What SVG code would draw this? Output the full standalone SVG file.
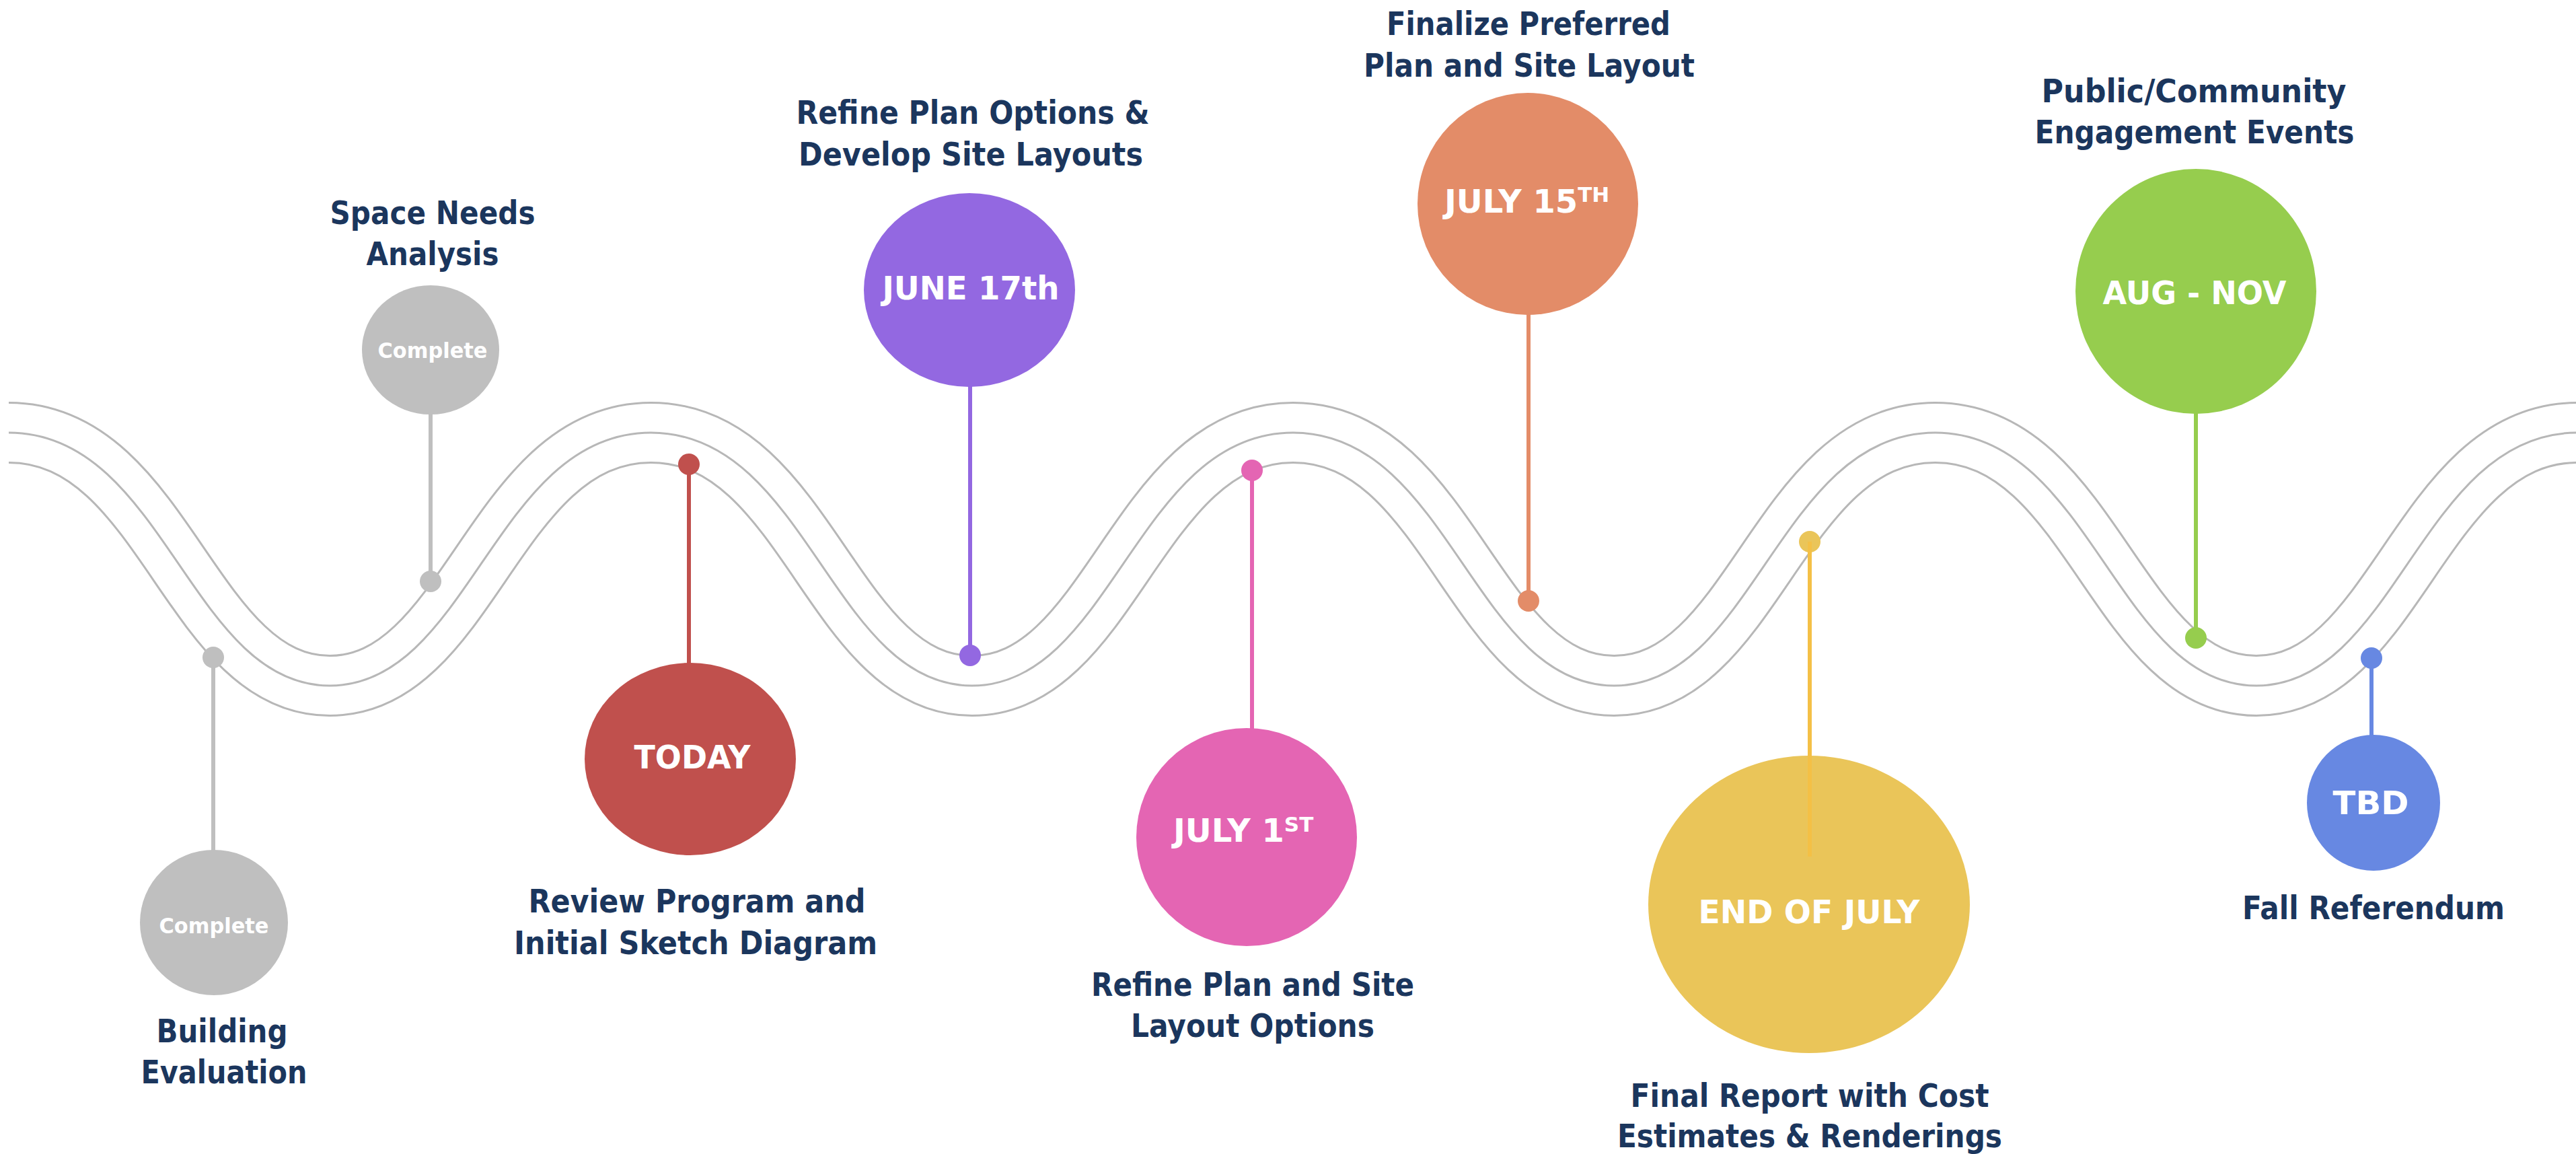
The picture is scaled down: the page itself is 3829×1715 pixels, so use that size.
<svg xmlns="http://www.w3.org/2000/svg" width="3829" height="1715" viewBox="0 0 3829 1715">
<defs>
<style>
.lbl{font-family:"DejaVu Sans","Liberation Sans",sans-serif;font-weight:bold;font-size:48px;fill:#1b365d;text-anchor:middle}
.in{font-family:"DejaVu Sans","Liberation Sans",sans-serif;font-weight:bold;font-size:48px;fill:#ffffff;text-anchor:middle}
.st{text-anchor:start}
.sup{font-size:31px}
.cmp{font-size:32px}
.stem{stroke-width:6;fill:none}
</style>
<path id="wave" fill="none" d="M13 643 C245 643 282.25 1019 490.25 1019 C698.25 1019 735.5 643 967.5 643 C1199.5 643 1236.75 1019 1444.75 1019 C1652.75 1019 1690 643 1922 643 C2154 643 2191.25 1019 2399.25 1019 C2607.25 1019 2644.5 643 2876.5 643 C3108.5 643 3145.75 1019 3353.75 1019 C3561.75 1019 3599 643 3831 643"/>
</defs>
<rect width="3829" height="1715" fill="#ffffff"/>
<g id="timeline">
<use href="#wave" stroke="#b7b7b7" stroke-width="92"/>
<use href="#wave" stroke="#ffffff" stroke-width="86"/>
<use href="#wave" stroke="#b7b7b7" stroke-width="3"/>
</g>
<g id="n-building">
<ellipse cx="318" cy="1371" rx="110" ry="108" fill="#bfbfbf"/>
<circle cx="317" cy="977" r="16" fill="#bfbfbf"/>
<text class="in cmp" x="318" y="1387" textLength="163" lengthAdjust="spacingAndGlyphs">Complete</text>
<text class="lbl" x="330" y="1549" textLength="195" lengthAdjust="spacingAndGlyphs">Building</text>
<text class="lbl" x="333" y="1610" textLength="247" lengthAdjust="spacingAndGlyphs">Evaluation</text>
</g>
<g id="n-space">
<ellipse cx="640" cy="520" rx="102" ry="96" fill="#bfbfbf"/>
<circle cx="640" cy="864" r="16" fill="#bfbfbf"/>
<text class="in cmp" x="643" y="532" textLength="163" lengthAdjust="spacingAndGlyphs">Complete</text>
<text class="lbl" x="643" y="333" textLength="305" lengthAdjust="spacingAndGlyphs">Space Needs</text>
<text class="lbl" x="643" y="394" textLength="197" lengthAdjust="spacingAndGlyphs">Analysis</text>
</g>
<g id="n-today">
<ellipse cx="1026" cy="1128" rx="157" ry="143" fill="#c0504d"/>
<circle cx="1024" cy="690" r="16" fill="#c0504d"/>
<text class="in" x="1029" y="1142" textLength="173" lengthAdjust="spacingAndGlyphs">TODAY</text>
<text class="lbl" x="1036" y="1356" textLength="501" lengthAdjust="spacingAndGlyphs">Review Program and</text>
<text class="lbl" x="1034" y="1418" textLength="540" lengthAdjust="spacingAndGlyphs">Initial Sketch Diagram</text>
</g>
<g id="n-june">
<ellipse cx="1441" cy="431" rx="157" ry="144" fill="#9368e1"/>
<circle cx="1442" cy="974" r="16" fill="#9368e1"/>
<text class="in" x="1443" y="445" textLength="263" lengthAdjust="spacingAndGlyphs">JUNE 17th</text>
<text class="lbl" x="1446" y="184" textLength="525" lengthAdjust="spacingAndGlyphs">Refine Plan Options &amp;</text>
<text class="lbl" x="1443" y="246" textLength="512" lengthAdjust="spacingAndGlyphs">Develop Site Layouts</text>
</g>
<g id="n-july1">
<ellipse cx="1853" cy="1244" rx="164" ry="162" fill="#e465b3"/>
<circle cx="1861" cy="699" r="16" fill="#e465b3"/>
<text class="in st" x="1744" y="1251">JULY 1<tspan class="sup" dy="-15">ST</tspan></text>
<text class="lbl" x="1862" y="1480" textLength="480" lengthAdjust="spacingAndGlyphs">Refine Plan and Site</text>
<text class="lbl" x="1862" y="1541" textLength="362" lengthAdjust="spacingAndGlyphs">Layout Options</text>
</g>
<g id="n-july15">
<ellipse cx="2271" cy="303" rx="164" ry="165" fill="#e38c68"/>
<circle cx="2272" cy="893" r="16" fill="#e38c68"/>
<text class="in st" x="2147" y="316">JULY 15<tspan class="sup" dy="-16">TH</tspan></text>
<text class="lbl" x="2272" y="52" textLength="422" lengthAdjust="spacingAndGlyphs">Finalize Preferred</text>
<text class="lbl" x="2273" y="114" textLength="492" lengthAdjust="spacingAndGlyphs">Plan and Site Layout</text>
</g>
<g id="n-endjuly">
<ellipse cx="2689" cy="1344" rx="239" ry="221" fill="#eac559"/>
<circle cx="2690" cy="805" r="16" fill="#eac559"/>
<text class="in" x="2689" y="1372" textLength="329" lengthAdjust="spacingAndGlyphs">END OF JULY</text>
<text class="lbl" x="2690" y="1645" textLength="533" lengthAdjust="spacingAndGlyphs">Final Report with Cost</text>
<text class="lbl" x="2690" y="1705" textLength="572" lengthAdjust="spacingAndGlyphs">Estimates &amp; Renderings</text>
</g>
<g id="n-augnov">
<ellipse cx="3264" cy="433" rx="179" ry="182" fill="#96cd4e"/>
<circle cx="3264" cy="948" r="16" fill="#96cd4e"/>
<text class="in" x="3262" y="452" textLength="273" lengthAdjust="spacingAndGlyphs">AUG - NOV</text>
<text class="lbl" x="3261" y="152" textLength="453" lengthAdjust="spacingAndGlyphs">Public/Community</text>
<text class="lbl" x="3262" y="213" textLength="475" lengthAdjust="spacingAndGlyphs">Engagement Events</text>
</g>
<g id="n-tbd">
<ellipse cx="3528" cy="1193" rx="99" ry="101" fill="#6788e2"/>
<circle cx="3525" cy="978" r="16" fill="#6788e2"/>
<text class="in" x="3524" y="1210" textLength="113" lengthAdjust="spacingAndGlyphs">TBD</text>
<text class="lbl" x="3528" y="1366" textLength="390" lengthAdjust="spacingAndGlyphs">Fall Referendum</text>
</g>
<g id="connectors">
<line class="stem" x1="317" y1="977" x2="317" y2="1264" stroke="#bfbfbf"/>
<line class="stem" x1="640" y1="614" x2="640" y2="864" stroke="#bfbfbf"/>
<line class="stem" x1="1024" y1="690" x2="1024" y2="987" stroke="#c0504d"/>
<line class="stem" x1="1442" y1="573" x2="1442" y2="974" stroke="#9368e1"/>
<line class="stem" x1="1861" y1="699" x2="1861" y2="1084" stroke="#e465b3"/>
<line class="stem" x1="2272" y1="466" x2="2272" y2="893" stroke="#e38c68"/>
<line class="stem" x1="2690" y1="805" x2="2690" y2="1273" stroke="#f4c046"/>
<line class="stem" x1="3264" y1="613" x2="3264" y2="948" stroke="#96cd4e"/>
<line class="stem" x1="3525" y1="978" x2="3525" y2="1094" stroke="#6788e2"/>
</g>
</svg>
